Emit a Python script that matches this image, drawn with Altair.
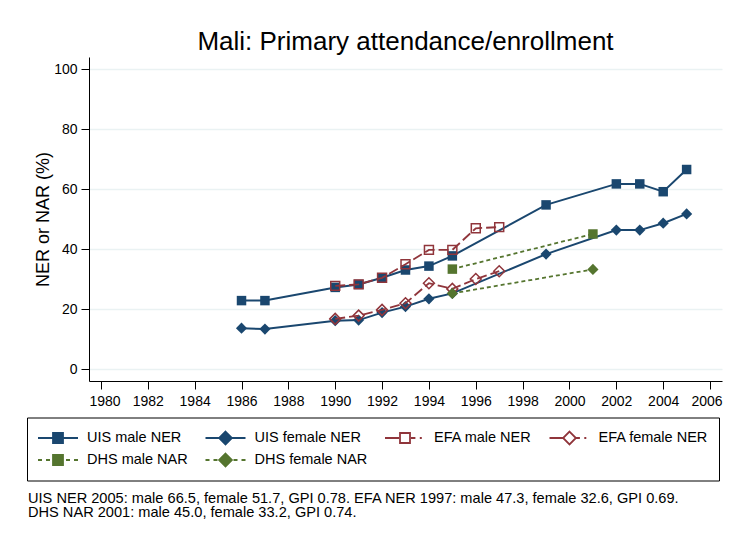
import altair as alt
import pandas as pd

# ---- data ----
years_uis = [1986, 1987, 1990, 1991, 1992, 1993, 1994, 1995, 1999, 2002, 2003, 2004, 2005]
uis_male = [22.8, 22.8, 27.2, 28.2, 30.4, 33.0, 34.3, 37.7, 54.7, 61.7, 61.7, 59.1, 66.5]
uis_female = [13.6, 13.3, 16.1, 16.3, 18.8, 20.8, 23.4, 25.2, 38.3, 46.3, 46.3, 48.6, 51.7]
years_efa = [1990, 1991, 1992, 1993, 1994, 1995, 1996, 1997]
efa_male = [27.7, 28.2, 30.4, 34.9, 39.7, 39.7, 46.9, 47.3]
efa_female = [16.7, 17.8, 19.7, 21.9, 28.6, 26.7, 30.0, 32.6]
years_dhs = [1995, 2001]
dhs_male = [33.3, 45.0]
dhs_female = [25.2, 33.2]

series_names = ["UIS male NER", "UIS female NER", "EFA male NER",
                "EFA female NER", "DHS male NAR", "DHS female NAR"]
x_ticks = list(range(1980, 2007, 2))
y_ticks = [0, 20, 40, 60, 80, 100]
title_text = "Mali: Primary attendance/enrollment"
y_title = "NER or NAR (%)"
note_lines = [
    "UIS NER 2005: male 66.5, female 51.7, GPI 0.78. EFA NER 1997: male 47.3, female 32.6, GPI 0.69.",
    "DHS NAR 2001: male 45.0, female 33.2, GPI 0.74.",
]

rows = []
for name, yrs, vals in [
    (series_names[0], years_uis, uis_male),
    (series_names[1], years_uis, uis_female),
    (series_names[2], years_efa, efa_male),
    (series_names[3], years_efa, efa_female),
    (series_names[4], years_dhs, dhs_male),
    (series_names[5], years_dhs, dhs_female),
]:
    for yr, v in zip(yrs, vals):
        rows.append({"year": yr, "value": v, "series": name})
df = pd.DataFrame(rows)

FONT = "Liberation Sans, Arial, Helvetica, sans-serif"
NAVY = "#1a476f"
RED = "#90353b"
GREEN = "#55752f"

styles = {
    "UIS male NER": dict(color=NAVY, dash=None, shape="square", filled=True, size=90),
    "UIS female NER": dict(color=NAVY, dash=None, shape="diamond", filled=True, size=125),
    "EFA male NER": dict(color=RED, dash=[10, 4], shape="square", filled=False, size=80),
    "EFA female NER": dict(color=RED, dash=[10, 4], shape="diamond", filled=False, size=120),
    "DHS male NAR": dict(color=GREEN, dash=[4, 3], shape="square", filled=True, size=90),
    "DHS female NAR": dict(color=GREEN, dash=[4, 3], shape="diamond", filled=True, size=125),
}

x_enc = alt.X("year:Q",
              scale=alt.Scale(domain=[1979.49, 2006.51], nice=False, zero=False),
              axis=alt.Axis(values=x_ticks, format="d", title=None, grid=False,
                            labelPadding=5, labelFlush=15, labelFlushOffset=12))
y_enc = alt.Y("value:Q",
              scale=alt.Scale(domain=[-4, 104], nice=False, zero=False),
              axis=alt.Axis(values=y_ticks, title=y_title, grid=True,
                            gridColor="#eaf2f3", gridWidth=1.5,
                            titleFontSize=18, titlePadding=1, labelPadding=4))

layers = []
for s in series_names:
    st = styles[s]
    base = alt.Chart(df).transform_filter(alt.datum.series == s)
    line_kw = dict(color=st["color"], strokeWidth=2 if s.startswith("UIS") else 1.8)
    if st["dash"]:
        line_kw["strokeDash"] = st["dash"]
    layers.append(base.mark_line(**line_kw).encode(x=x_enc, y=y_enc))
    layers.append(base.mark_point(shape=st["shape"], filled=st["filled"], size=st["size"],
                                  color=st["color"], strokeWidth=1.5, opacity=1)
                  .encode(x=x_enc, y=y_enc))

# legend symbols: line + marker drawn as custom paths
sq = "M-0.25,-0.25L0.25,-0.25L0.25,0.25L-0.25,0.25Z"
dm = "M0,-0.32L0.32,0L0,0.32L-0.32,0Z"
solid = "M-1,0L-0.25,0M0.25,0L1,0"
efa_l = "M-1,0L-0.3,0M0.3,0L0.52,0M0.74,0L0.84,0"
dhs_l = "M-1,0L-0.8,0M-0.6,0L-0.4,0M0.4,0L0.6,0M0.8,0L1,0"
legend_paths = [solid + sq, solid + dm, efa_l + sq, efa_l + dm, dhs_l + sq, dhs_l + dm]
legend_fill = [NAVY, NAVY, "white", "white", GREEN, GREEN]
legend_stroke = [NAVY, NAVY, RED, RED, GREEN, GREEN]

leg = alt.Legend(
    title=None, orient="none", direction="horizontal", legendX=-62, legendY=360.5,
    columns=4, strokeColor="black", fillColor="white", padding=10,
    columnPadding=16.5, rowPadding=1, clipHeight=21,
    symbolSize=1600, symbolOffset=0, symbolStrokeWidth=1.8, symbolOpacity=1,
    labelOffset=8, labelFontSize=14.5, labelFont=FONT, labelColor="black",
)
legend_layer = alt.Chart(df).mark_point(opacity=0).encode(
    x=x_enc, y=y_enc,
    shape=alt.Shape("series:N", scale=alt.Scale(domain=series_names, range=legend_paths), legend=leg),
    fill=alt.Fill("series:N", scale=alt.Scale(domain=series_names, range=legend_fill), legend=leg),
    stroke=alt.Stroke("series:N", scale=alt.Scale(domain=series_names, range=legend_stroke), legend=leg),
)
layers.append(legend_layer)

one = pd.DataFrame({"k": [0]})
note = alt.Chart(one).mark_text(
    text=note_lines, align="left", baseline="alphabetic", font=FONT,
    fontSize=14.6, lineHeight=14.6, color="black"
).encode(x=alt.value(-61), y=alt.value(445.8))
layers.append(note)

chart = alt.layer(*layers).properties(
    width=633, height=324,
    autosize=alt.AutoSizeParams(type="none"),
    padding={"left": 81, "top": 49, "right": 1, "bottom": 140},
    title=alt.TitleParams(title_text, fontSize=26, font=FONT, fontWeight="normal",
                          color="black", anchor="middle", offset=2),
).configure_view(stroke="transparent").configure_axis(
    labelFont=FONT, titleFont=FONT, labelFontSize=14, labelColor="black",
    titleColor="black", titleFontWeight="normal", domainColor="black",
    tickColor="black", tickSize=8, domainWidth=1, tickWidth=1,
)

chart.save("out.html", embed_options={"renderer": "svg", "actions": False})
